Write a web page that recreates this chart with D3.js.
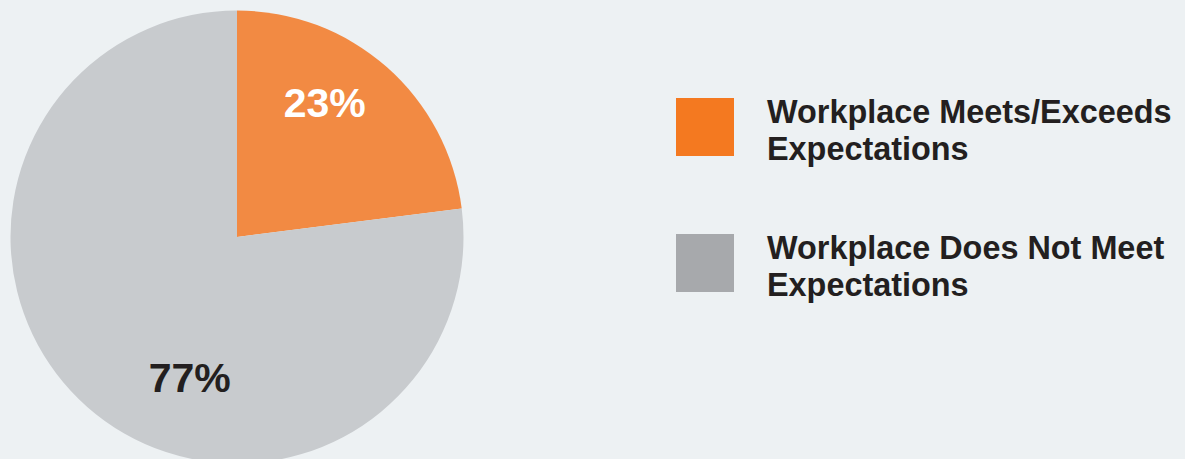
<!DOCTYPE html>
<html>
<head>
	<title>Workplace Expectations</title>
	<script type="text/javascript" src="https://cdnjs.cloudflare.com/ajax/libs/d3/7.8.5/d3.min.js"></script>
	<style>
		body { margin: 0; background: #edf1f3; }
		svg { display: block; font-family: "Liberation Sans", Arial, Helvetica, sans-serif; }
	</style>
</head>
<body>
<svg id="chart" width="1185" height="459"></svg>
<script type="text/javascript">
	var categories = ["Workplace Meets/Exceeds Expectations", "Workplace Does Not Meet Expectations"];
	var values = [23, 77];
	var labels = ["23%", "77%"];
	var legendLines = [["Workplace Meets/Exceeds", "Expectations"], ["Workplace Does Not Meet", "Expectations"]];

	var sliceColors = ["#f28a43", "#c8cbce"];
	var keyColors = ["#f47920", "#a7a9ac"];
	var labelColors = ["#ffffff", "#231f20"];

	var svg = d3.select("#chart");
	var cx = 237, cy = 237, radius = 226.5;

	var pie = d3.pie().sort(null).value(function(d) { return d; });
	var arc = d3.arc().innerRadius(0).outerRadius(radius);
	var slices = pie(values);

	var g = svg.append("g").attr("transform", "translate(" + cx + "," + cy + ")");
	g.selectAll("path")
		.data(slices)
		.enter().append("path")
		.attr("d", arc)
		.attr("fill", function(d, i) { return sliceColors[i]; });

	// labels are not on the mid angle in the original, so nudge them
	var labelAngle = [33 * Math.PI / 180, 198.6 * Math.PI / 180];
	var labelRadius = [161, 148];
	g.selectAll("text.pct")
		.data(slices)
		.enter().append("text")
		.attr("class", "pct")
		.attr("x", function(d, i) { return Math.sin(labelAngle[i]) * labelRadius[i]; })
		.attr("y", function(d, i) { return -Math.cos(labelAngle[i]) * labelRadius[i] + 15; })
		.attr("text-anchor", "middle")
		.attr("font-size", 41)
		.attr("font-weight", "bold")
		.attr("fill", function(d, i) { return labelColors[i]; })
		.text(function(d, i) { return labels[i]; });

	// legend
	var legendY = d3.scaleBand().domain(categories).range([98, 370]).paddingInner(0);
	var legend = svg.selectAll("g.key")
		.data(categories)
		.enter().append("g")
		.attr("class", "key")
		.attr("transform", function(d) { return "translate(676," + legendY(d) + ")"; });

	legend.append("rect")
		.attr("width", 58)
		.attr("height", 58)
		.attr("fill", function(d, i) { return keyColors[i]; });

	legend.each(function(d, i) {
		var t = d3.select(this).append("text")
			.attr("font-size", 32.4)
			.attr("font-weight", "bold")
			.attr("fill", "#231f20");
		legendLines[i].forEach(function(line, j) {
			t.append("tspan")
				.attr("x", 91)
				.attr("y", 25 + j * 37)
				.text(line);
		});
	});
</script>
</body>
</html>
